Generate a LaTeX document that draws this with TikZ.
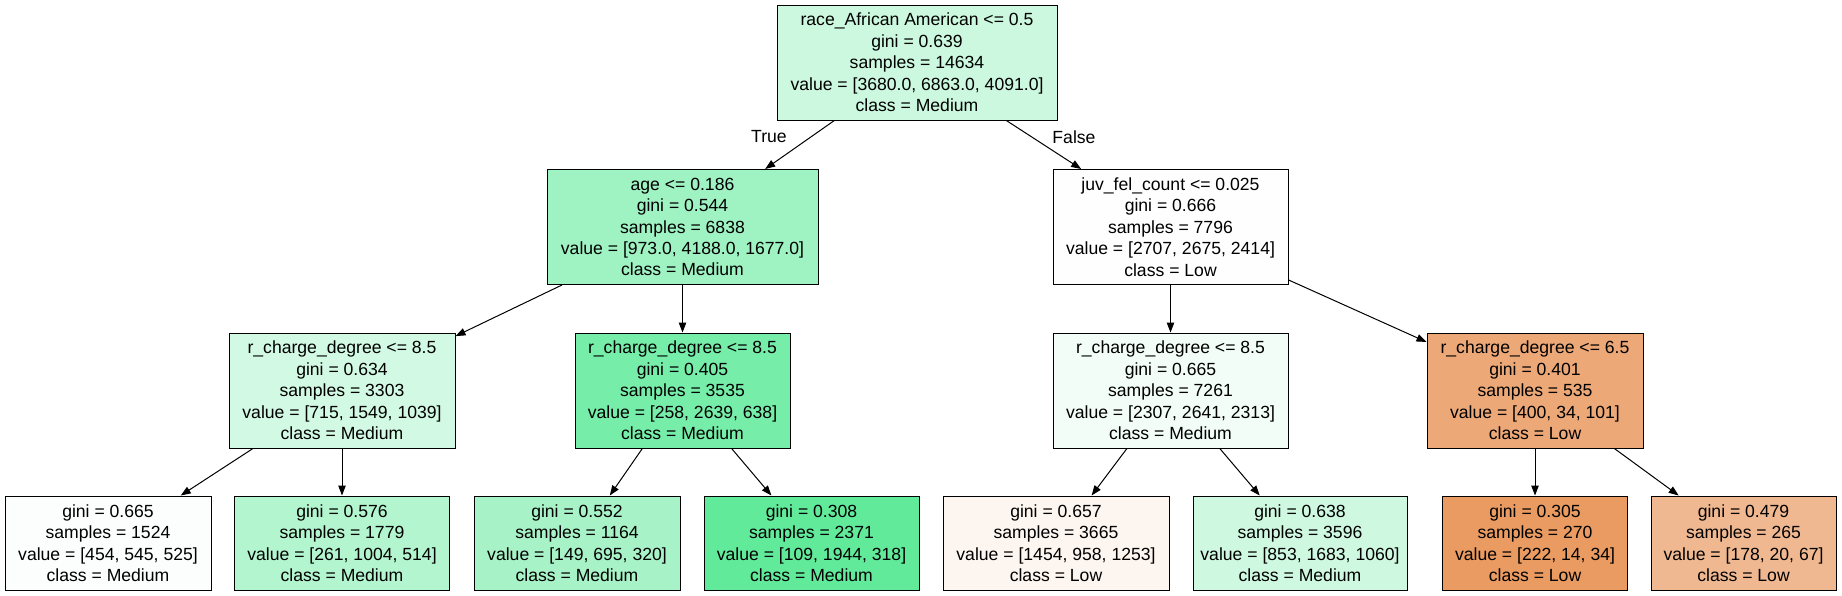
\documentclass[tikz,border=0pt]{standalone}
\usepackage{fontspec}
\setmainfont{Liberation Sans}
\usetikzlibrary{arrows.meta}
\definecolor{cRoot}{RGB}{203,248,222}
\definecolor{cAge}{RGB}{159,242,194}
\definecolor{cJuv}{RGB}{255,254,254}
\definecolor{cRcA}{RGB}{210,249,227}
\definecolor{cRcB}{RGB}{118,237,168}
\definecolor{cRcC}{RGB}{242,253,247}
\definecolor{cRcD}{RGB}{237,168,119}
\definecolor{cLfA}{RGB}{251,254,252}
\definecolor{cLfB}{RGB}{178,245,206}
\definecolor{cLfC}{RGB}{167,243,199}
\definecolor{cLfD}{RGB}{98,234,155}
\definecolor{cLfE}{RGB}{253,245,239}
\definecolor{cLfF}{RGB}{206,249,224}
\definecolor{cLfG}{RGB}{234,155,97}
\definecolor{cLfH}{RGB}{240,184,144}
\tikzset{
  treebox/.style={draw=black, line width=0.75pt, rectangle, inner sep=0pt,
    align=center, font=\fontsize{13.2pt}{16.1pt}\selectfont},
  splitbox/.style={treebox, minimum height=115*0.75pt},
  leafbox/.style={treebox, minimum height=94*0.75pt},
  edge/.style={-{Triangle[length=7.5pt,width=5.6pt]}, line width=0.75pt, black},
  edgelabel/.style={font=\fontsize{13.2pt}{16.1pt}\selectfont, inner sep=0pt}
}
\begin{document}
\begin{tikzpicture}[x=0.75pt,y=-0.75pt]
\useasboundingbox (0,0) rectangle (1842,596);
\fill[white] (0,0) rectangle (1842,596);
% level 0
\node[splitbox, fill=cRoot, minimum width=280*0.75pt] (root) at (917,62.5)
  {race\_African American <= 0.5\\gini = 0.639\\samples = 14634\\value = [3680.0, 6863.0, 4091.0]\\class = Medium};
% level 1
\node[splitbox, fill=cAge, minimum width=271*0.75pt] (age) at (682.5,227)
  {age <= 0.186\\gini = 0.544\\samples = 6838\\value = [973.0, 4188.0, 1677.0]\\class = Medium};
\node[splitbox, fill=cJuv, minimum width=235*0.75pt] (juv) at (1170.5,227)
  {juv\_fel\_count <= 0.025\\gini = 0.666\\samples = 7796\\value = [2707, 2675, 2414]\\class = Low};
% level 2
\node[splitbox, fill=cRcA, minimum width=226*0.75pt] (rca) at (342,390.5)
  {r\_charge\_degree <= 8.5\\gini = 0.634\\samples = 3303\\value = [715, 1549, 1039]\\class = Medium};
\node[splitbox, fill=cRcB, minimum width=215*0.75pt] (rcb) at (682.5,390.5)
  {r\_charge\_degree <= 8.5\\gini = 0.405\\samples = 3535\\value = [258, 2639, 638]\\class = Medium};
\node[splitbox, fill=cRcC, minimum width=235*0.75pt] (rcc) at (1170.5,390.5)
  {r\_charge\_degree <= 8.5\\gini = 0.665\\samples = 7261\\value = [2307, 2641, 2313]\\class = Medium};
\node[splitbox, fill=cRcD, minimum width=216*0.75pt] (rcd) at (1535,390.5)
  {r\_charge\_degree <= 6.5\\gini = 0.401\\samples = 535\\value = [400, 34, 101]\\class = Low};
% leaves
\node[leafbox, fill=cLfA, minimum width=206*0.75pt] (lfa) at (108,543)
  {gini = 0.665\\samples = 1524\\value = [454, 545, 525]\\class = Medium};
\node[leafbox, fill=cLfB, minimum width=215*0.75pt] (lfb) at (342,543)
  {gini = 0.576\\samples = 1779\\value = [261, 1004, 514]\\class = Medium};
\node[leafbox, fill=cLfC, minimum width=206*0.75pt] (lfc) at (577,543)
  {gini = 0.552\\samples = 1164\\value = [149, 695, 320]\\class = Medium};
\node[leafbox, fill=cLfD, minimum width=215*0.75pt] (lfd) at (811.5,543)
  {gini = 0.308\\samples = 2371\\value = [109, 1944, 318]\\class = Medium};
\node[leafbox, fill=cLfE, minimum width=226*0.75pt] (lfe) at (1056,543)
  {gini = 0.657\\samples = 3665\\value = [1454, 958, 1253]\\class = Low};
\node[leafbox, fill=cLfF, minimum width=214*0.75pt] (lff) at (1300,543)
  {gini = 0.638\\samples = 3596\\value = [853, 1683, 1060]\\class = Medium};
\node[leafbox, fill=cLfG, minimum width=185*0.75pt] (lfg) at (1535,543)
  {gini = 0.305\\samples = 270\\value = [222, 14, 34]\\class = Low};
\node[leafbox, fill=cLfH, minimum width=185*0.75pt] (lfh) at (1743.5,543)
  {gini = 0.479\\samples = 265\\value = [178, 20, 67]\\class = Low};
% edges
\draw[edge] (root) -- (age);
\draw[edge] (root) -- (juv);
\node[edgelabel] (lblT) at (769,137) {True};
\node[edgelabel] (lblF) at (1074,137) {False};
\draw[edge] (age) -- (rca);
\draw[edge] (age) -- (rcb);
\draw[edge] (juv) -- (rcc);
\draw[edge] (juv) -- (rcd);
\draw[edge] (rca) -- (lfa);
\draw[edge] (rca) -- (lfb);
\draw[edge] (rcb) -- (lfc);
\draw[edge] (rcb) -- (lfd);
\draw[edge] (rcc) -- (lfe);
\draw[edge] (rcc) -- (lff);
\draw[edge] (rcd) -- (lfg);
\draw[edge] (rcd) -- (lfh);
\end{tikzpicture}
\end{document}
